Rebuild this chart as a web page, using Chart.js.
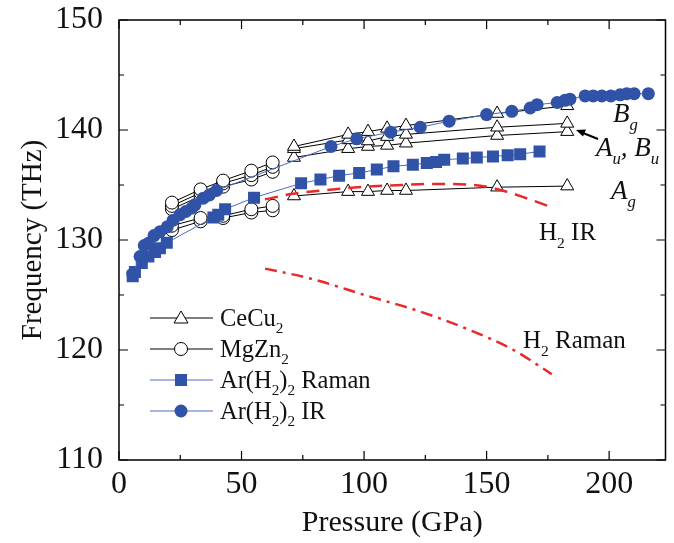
<!DOCTYPE html>
<html>
<head>
<meta charset="utf-8">
<script src="https://cdn.jsdelivr.net/npm/chart.js@4.4.0/dist/chart.umd.min.js"></script>
<style>
  body { margin:0; background:#fff; }
  #wrap { width:674px; height:543px; }
</style>
</head>
<body>
<div id="wrap"><canvas id="chart" width="674" height="543"></canvas></div>
<script>
// pressure in GPa, frequency in THz
const cePressure = [71.4, 93.5, 101.6, 109.4, 117.1, 154.3, 182.9];
const ceBg = [138.5, 139.6, 139.85, 140.15, 140.4, 141.5, 142.2];
const ceAu = [138.3, 139.1, 139.0, 139.4, 139.6, 140.25, 140.6];
const ceBu = [137.5, 138.3, 138.5, 138.6, 138.8, 139.5, 139.85];
const ceAg = [134.0, 134.4, 134.4, 134.5, 134.5, 134.8, 134.9];

const mgPressure = [21.6, 33.3, 42.5, 54.0, 62.7];
const mgUp1 = [133.4, 134.6, 135.4, 136.3, 137.05];
const mgUp2 = [133.1, 134.3, 135.15, 135.9, 136.65];
const mgUp3 = [132.8, 134.0, 134.85, 135.5, 136.2];
const mgLow1 = [131.3, 132.0, 132.2, 132.8, 133.1];
const mgLow2 = [130.9, 131.7, 132.0, 132.5, 132.7];

const ramanPressure = [5.6, 6.5, 9.3, 12, 14.7, 16.7, 19.5, 38.5, 40.5, 43.3, 55.1, 74.3, 82.2, 89.8, 98, 105.2, 112, 119.9, 125.6, 129.4, 132.7, 140.3, 146, 152.6, 158.6, 163.7, 171.6];
const ramanFreq = [126.7, 127.1, 127.9, 128.5, 128.9, 129.25, 129.75, 132.05, 132.3, 132.8, 133.85, 135.15, 135.5, 135.85, 136.1, 136.4, 136.7, 136.85, 137.0, 137.1, 137.3, 137.4, 137.5, 137.6, 137.7, 137.8, 138.05];

const irPressure = [5.6, 8.6, 10.3, 12, 14.3, 16.7, 19.7, 22.1, 24.9, 27.3, 29.7, 31, 34.4, 36.9, 39.8, 86.5, 97, 110.9, 122.9, 134.7, 150, 160.3, 167.8, 170.6, 178.8, 182, 184, 190.2, 193.5, 197, 200.7, 204.5, 207.2, 210.2, 216];
const irFreq = [126.9, 128.5, 129.5, 129.7, 130.4, 130.75, 131.2, 131.8, 132.3, 132.6, 132.9, 133.2, 133.8, 134.1, 134.5, 138.5, 139.2, 139.8, 140.25, 140.8, 141.4, 141.7, 142.0, 142.3, 142.5, 142.7, 142.8, 143.1, 143.1, 143.1, 143.1, 143.2, 143.3, 143.3, 143.3];

const h2IrPressure = [59.6, 71, 85, 101, 115, 128, 142, 150, 158, 165, 175];
const h2IrFreq = [133.7, 134.2, 134.55, 134.85, 135.0, 135.1, 135.05, 134.85, 134.4, 133.9, 133.1];

const h2RamanPressure = [59.6, 78, 102.4, 121.5, 143.3, 161, 176.6];
const h2RamanFreq = [127.4, 126.5, 124.85, 123.6, 121.8, 120.0, 117.8];

const xTicks = [0, 50, 100, 150, 200];
const yTicks = [110, 120, 130, 140, 150];

const blue = "#3053a8";
const lineBlue = "#4a6cc0";
const red = "#e8282a";
const serif = "'Liberation Serif', 'Times New Roman', serif";

function pts(xs, ys){ return xs.map((x,i)=>({x:x, y:ys[i]})); }

function ceSet(ys){
    return { data:pts(cePressure,ys), showLine:true, borderColor:"#000", borderWidth:1,
        pointStyle:"triangle", pointRadius:7.5, pointBackgroundColor:"#fff", pointBorderColor:"#000", pointBorderWidth:1 };
}
function mgSet(ys){
    return { data:pts(mgPressure,ys), showLine:true, borderColor:"#000", borderWidth:1,
        pointStyle:"circle", pointRadius:6.5, pointBackgroundColor:"#fff", pointBorderColor:"#000", pointBorderWidth:1 };
}

// draws text with subscript pieces: parts = [[text, sub?], ...]
function richText(ctx, x, y, parts, size, italic){
    let cx = x;
    parts.forEach(p=>{
        const s = p[1] ? size*0.62 : size;
        ctx.font = (italic?"italic ":"") + s + "px " + serif;
        ctx.fillText(p[0], cx, p[1] ? y + size*0.3 : y);
        cx += ctx.measureText(p[0]).width;
    });
}

function marker(ctx, kind, x, y){
    ctx.save();
    ctx.lineWidth = 1;
    ctx.beginPath();
    if(kind==="tri"){
        ctx.moveTo(x, y-7); ctx.lineTo(x+7, y+5); ctx.lineTo(x-7, y+5); ctx.closePath();
        ctx.fillStyle="#fff"; ctx.fill(); ctx.strokeStyle="#000"; ctx.stroke();
    } else if(kind==="circ"){
        ctx.arc(x, y, 6.5, 0, Math.PI*2);
        ctx.fillStyle="#fff"; ctx.fill(); ctx.strokeStyle="#000"; ctx.stroke();
    } else if(kind==="sq"){
        ctx.rect(x-6, y-6, 12, 12);
        ctx.fillStyle=blue; ctx.fill();
    } else {
        ctx.arc(x, y, 6.5, 0, Math.PI*2);
        ctx.fillStyle=blue; ctx.fill();
    }
    ctx.restore();
}

const decor = {
    id:"decor",
    afterDraw(chart){
        const ctx = chart.ctx;
        const a = chart.chartArea;
        const xs = chart.scales.x, ys = chart.scales.y;
        ctx.save();
        ctx.strokeStyle="#000";
        ctx.lineWidth=1.5;
        ctx.strokeRect(a.left, a.top, a.right-a.left, a.bottom-a.top);
        ctx.lineWidth=1.2;
        ctx.beginPath();
        for(let v=0; v<=xs.max; v+=25){
            const px = xs.getPixelForValue(v);
            const len = v%50===0 ? 9 : 5;
            ctx.moveTo(px, a.bottom); ctx.lineTo(px, a.bottom-len);
            ctx.moveTo(px, a.top); ctx.lineTo(px, a.top+len);
        }
        for(let v=110; v<=150; v+=5){
            const py = ys.getPixelForValue(v);
            const len = v%10===0 ? 9 : 5;
            ctx.moveTo(a.left, py); ctx.lineTo(a.left+len, py);
            ctx.moveTo(a.right, py); ctx.lineTo(a.right-len, py);
        }
        ctx.stroke();

        // legend
        const rows = [
            { kind:"tri", col:"#000", parts:[["CeCu",0],["2",1]] },
            { kind:"circ", col:"#000", parts:[["MgZn",0],["2",1]] },
            { kind:"sq", col:lineBlue, parts:[["Ar(H",0],["2",1],[")",0],["2",1],[" Raman",0]] },
            { kind:"dot", col:lineBlue, parts:[["Ar(H",0],["2",1],[")",0],["2",1],[" IR",0]] }
        ];
        ctx.textBaseline="alphabetic";
        ctx.textAlign="left";
        rows.forEach((r,i)=>{
            const y = 318 + i*31;
            ctx.strokeStyle=r.col; ctx.lineWidth=1;
            ctx.beginPath(); ctx.moveTo(150,y); ctx.lineTo(213,y); ctx.stroke();
            marker(ctx, r.kind, 181, y);
            ctx.fillStyle="#111";
            richText(ctx, 220, y+8, r.parts, 24.5, false);
        });

        // annotations
        ctx.fillStyle="#111";
        richText(ctx, 613, 122, [["B",0],["g",1]], 27, true);
        richText(ctx, 596, 156, [["A",0],["u",1],[", B",0],["u",1]], 27, true);
        richText(ctx, 611, 199, [["A",0],["g",1]], 27, true);
        richText(ctx, 539, 240, [["H",0],["2",1],[" IR",0]], 25, false);
        richText(ctx, 523, 348, [["H",0],["2",1],[" Raman",0]], 25, false);

        // arrow
        ctx.strokeStyle="#000"; ctx.fillStyle="#000"; ctx.lineWidth=2;
        ctx.beginPath(); ctx.moveTo(598,139); ctx.lineTo(583,133); ctx.stroke();
        ctx.beginPath(); ctx.moveTo(576,130); ctx.lineTo(586,129.5); ctx.lineTo(583,136.5); ctx.closePath(); ctx.fill();
        ctx.restore();
    }
};

new Chart(document.getElementById("chart"),{
    type:"scatter",
    data:{
        datasets:[
            { data:pts(h2IrPressure,h2IrFreq), showLine:true, borderColor:red, borderWidth:2.5, borderDash:[13,8], pointRadius:0, cubicInterpolationMode:"monotone" },
            { data:pts(h2RamanPressure,h2RamanFreq), showLine:true, borderColor:red, borderWidth:2.5, borderDash:[12,6,3,6], pointRadius:0, cubicInterpolationMode:"monotone" },
            { data:pts(irPressure,irFreq), showLine:true, borderColor:lineBlue, borderWidth:1, pointStyle:"circle", pointRadius:6.5, pointBackgroundColor:blue, pointBorderColor:blue, pointBorderWidth:0 },
            { data:pts(ramanPressure,ramanFreq), showLine:true, borderColor:lineBlue, borderWidth:1, pointStyle:"rect", pointRadius:8.5, pointBackgroundColor:blue, pointBorderColor:blue, pointBorderWidth:0 },
            ceSet(ceBg), ceSet(ceAu), ceSet(ceBu), ceSet(ceAg),
            mgSet(mgUp1), mgSet(mgUp2), mgSet(mgUp3), mgSet(mgLow1), mgSet(mgLow2)
        ]
    },
    options:{
        responsive:false,
        animation:false,
        layout:{ padding:{ top:20, right:6, left:0, bottom:0 } },
        plugins:{ legend:{ display:false }, tooltip:{ enabled:false } },
        scales:{
            x:{
                type:"linear", min:0, max:223,
                grid:{ display:false, drawTicks:false }, border:{ display:false },
                afterBuildTicks:s=>{ s.ticks = xTicks.map(v=>({value:v})); },
                afterFit:s=>{ s.height = 83; s.paddingLeft = 0; s.paddingRight = 0; },
                ticks:{ color:"#111", padding:5, maxRotation:0, font:{ family:serif, size:32 } },
                title:{ display:true, text:"Pressure (GPa)", color:"#111", padding:{top:0,bottom:2}, font:{ family:serif, size:30 } }
            },
            y:{
                type:"linear", min:110, max:150,
                grid:{ display:false, drawTicks:false }, border:{ display:false },
                afterBuildTicks:s=>{ s.ticks = yTicks.map(v=>({value:v})); },
                afterFit:s=>{ s.width = 119; s.paddingTop = 0; s.paddingBottom = 0; },
                ticks:{ color:"#111", padding:16, font:{ family:serif, size:32 } },
                title:{ display:true, text:"Frequency (THz)", color:"#111", padding:{top:16,bottom:0}, font:{ family:serif, size:29 } }
            }
        }
    },
    plugins:[decor]
});
</script>
</body>
</html>
